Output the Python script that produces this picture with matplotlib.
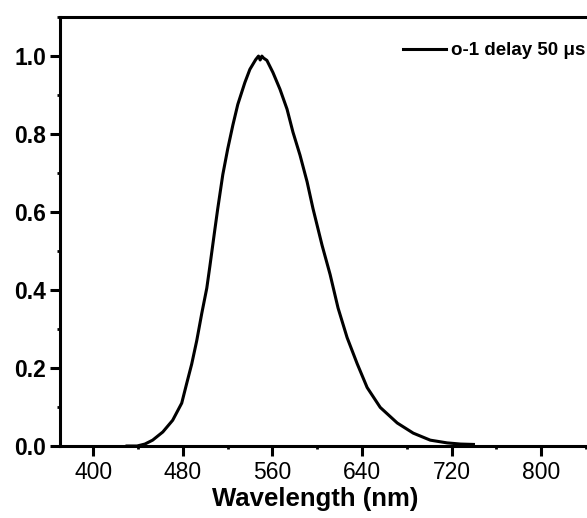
import matplotlib
matplotlib.use('Agg')
import matplotlib.pyplot as plt
from matplotlib.ticker import MultipleLocator

# 스펙트럼 데이터
wavelength = [430, 439, 446, 452.9, 462, 470.8, 478.9, 483.3, 487.8, 492.3, 496.8, 501.3,
              504, 506.6, 508.4, 511, 515.6, 520, 524.6, 529, 535.3, 539.8, 545, 547.5,
              549, 550.5, 552, 555, 560.4, 566.7, 573, 578.3, 584.6, 590.9, 596.2, 604.3,
              611.5, 618.6, 626.7, 635.7, 644.6, 656.3, 671.5, 685.8, 701, 716, 728, 739.6]
intensity = [0.0, 0.0, 0.005, 0.015, 0.036, 0.066, 0.11, 0.16, 0.21, 0.27, 0.34, 0.405,
             0.46, 0.515, 0.553, 0.607, 0.696, 0.762, 0.823, 0.876, 0.932, 0.966, 0.991, 1.0,
             0.99, 1.0, 0.995, 0.989, 0.958, 0.915, 0.864, 0.805, 0.746, 0.678, 0.609, 0.515,
             0.44, 0.354, 0.278, 0.211, 0.15, 0.099, 0.059, 0.033, 0.015, 0.008, 0.005, 0.004]
label = 'o-1 delay 50 μs'

x_ticks = [400, 480, 560, 640, 720, 800]
y_ticks = [0.0, 0.2, 0.4, 0.6, 0.8, 1.0]

plt.rcParams['font.family'] = ['Liberation Sans', 'DejaVu Sans']

fig = plt.figure(figsize=(5.87, 5.18), dpi=100)
ax = fig.add_axes([0.102, 0.139, 0.915, 0.828])

ax.plot(wavelength, intensity, color='black', lw=2.2, label=label)

ax.set_xlim(370, 850)
ax.set_ylim(0, 1.1)
ax.set_xticks(x_ticks)
ax.set_yticks(y_ticks)
ax.xaxis.set_minor_locator(MultipleLocator(40))
ax.yaxis.set_minor_locator(MultipleLocator(0.1))
ax.set_yticklabels([f'{v:.1f}' for v in y_ticks], fontweight='bold')

for s in ['left', 'bottom', 'top']:
    ax.spines[s].set_linewidth(2.2)
ax.spines['right'].set_visible(False)

ax.tick_params(which='major', direction='out', length=7, width=2.2, labelsize=16.5, pad=3)
ax.tick_params(axis='x', which='major', pad=4)
ax.tick_params(which='minor', direction='out', length=2, width=2)
ax.tick_params(top=False, right=False, which='both')

ax.set_xlabel('Wavelength (nm)', fontsize=18.5, fontweight='bold')
ax.xaxis.set_label_coords(0.475, -0.095)

ax.legend(loc='upper left', bbox_to_anchor=(403 / 587, 1 - 42 / 518),
          bbox_transform=fig.transFigure, frameon=False, handlelength=2.3,
          handletextpad=0.25, borderaxespad=0, borderpad=0,
          prop={'size': 13.5, 'weight': 'bold'})

fig.savefig('out.png', dpi=100)
